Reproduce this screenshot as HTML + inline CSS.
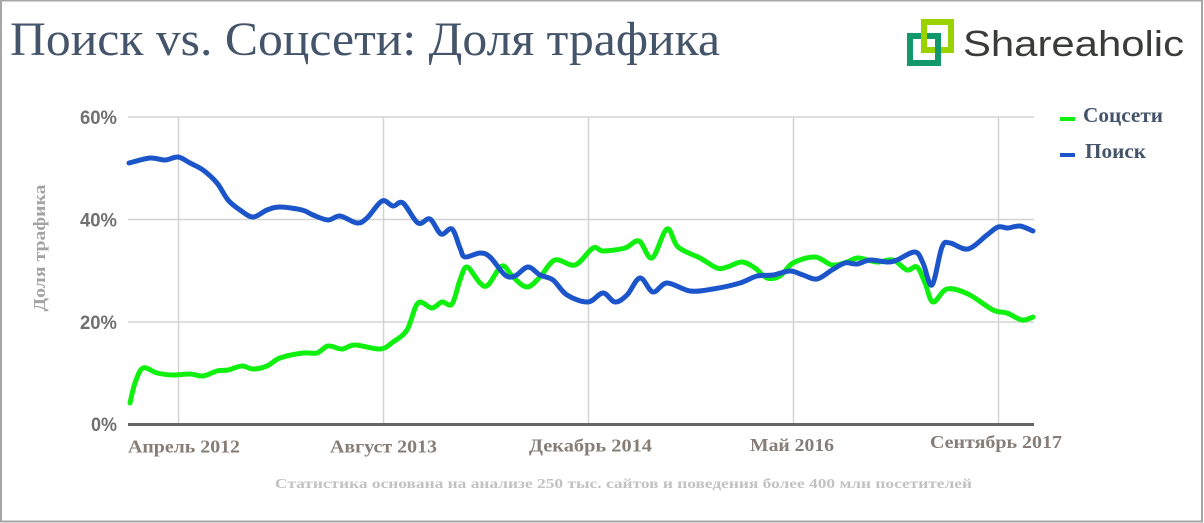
<!DOCTYPE html>
<html>
<head>
<meta charset="utf-8">
<style>
  html, body { margin:0; padding:0; background:#fff; }
  body { width:1204px; height:523px; overflow:hidden; }
  svg { display:block; }
</style>
</head>
<body>
<svg id="chart" width="1204" height="523" viewBox="0 0 1204 523" xmlns="http://www.w3.org/2000/svg">
  <rect x="0" y="0" width="1204" height="523" fill="#ffffff"/>
  <!-- border -->
  <rect x="1" y="0.5" width="1201" height="521" fill="none" stroke="#a6a6a6" stroke-width="2"/>

  <!-- Title -->
  <text x="10" y="55" font-family="'Liberation Serif', 'Noto Serif CJK SC', serif" font-size="48" fill="#44546a" textLength="710" lengthAdjust="spacingAndGlyphs">Поиск vs. Соцсети: Доля трафика</text>

  <!-- Logo -->
  <rect x="910" y="36" width="28" height="27" fill="none" stroke="#12996b" stroke-width="6"/>
  <rect x="924" y="22" width="27" height="28" fill="none" stroke="#9ad200" stroke-width="6"/>
  <rect x="935" y="47" width="6" height="6" fill="#12996b"/>
  <text x="963" y="56" font-family="'Liberation Sans', sans-serif" font-size="36" fill="#3a3c39" textLength="221" lengthAdjust="spacingAndGlyphs">Shareaholic</text>

  <!-- Gridlines -->
  <g stroke="#d3d3d3" stroke-width="1.5" fill="none">
    <line x1="128" y1="117" x2="1034" y2="117"/>
    <line x1="128" y1="219.5" x2="1034" y2="219.5"/>
    <line x1="128" y1="322" x2="1034" y2="322"/>
    <line x1="178.5" y1="117" x2="178.5" y2="424"/>
    <line x1="383.5" y1="117" x2="383.5" y2="424"/>
    <line x1="588.5" y1="117" x2="588.5" y2="424"/>
    <line x1="793.5" y1="117" x2="793.5" y2="424"/>
    <line x1="998.5" y1="117" x2="998.5" y2="424"/>
  </g>
  <line x1="128" y1="424.5" x2="1034" y2="424.5" stroke="#666666" stroke-width="3"/>

  <!-- Y tick labels -->
  <g font-family="'Liberation Sans', sans-serif" font-weight="bold" font-size="19" fill="#707070" text-anchor="end">
    <text x="117" y="124" textLength="37" lengthAdjust="spacingAndGlyphs">60%</text>
    <text x="117" y="226.5" textLength="37" lengthAdjust="spacingAndGlyphs">40%</text>
    <text x="117" y="329" textLength="37" lengthAdjust="spacingAndGlyphs">20%</text>
    <text x="117" y="431" textLength="26" lengthAdjust="spacingAndGlyphs">0%</text>
  </g>

  <!-- Y axis title -->
  <text transform="translate(45,248) rotate(-90)" text-anchor="middle" font-family="'Liberation Serif', serif" font-weight="bold" font-size="17" fill="#a3a3a3" textLength="127" lengthAdjust="spacingAndGlyphs">Доля трафика</text>

  <!-- X labels -->
  <g font-family="'Liberation Serif', serif" font-weight="bold" font-size="18" fill="#857d76">
    <text x="128" y="452.5" textLength="112" lengthAdjust="spacingAndGlyphs">Апрель 2012</text>
    <text x="330" y="452.5" textLength="107" lengthAdjust="spacingAndGlyphs">Август 2013</text>
    <text x="529" y="451.5" textLength="123" lengthAdjust="spacingAndGlyphs">Декабрь 2014</text>
    <text x="750" y="451" textLength="84" lengthAdjust="spacingAndGlyphs">Май 2016</text>
    <text x="930" y="448" textLength="132" lengthAdjust="spacingAndGlyphs">Сентябрь 2017</text>
  </g>

  <!-- Caption -->
  <text x="275" y="488" font-family="'Liberation Serif', serif" font-weight="bold" font-size="14" fill="#c2c2c2" textLength="697" lengthAdjust="spacingAndGlyphs">Статистика основана на анализе 250 тыс. сайтов и поведения более 400 млн посетителей</text>

  <!-- Series -->
  <polyline class="series" fill="none" stroke="#0ff00f" stroke-width="5" stroke-linejoin="round" stroke-linecap="round"
    points="130,403 135,383 143,368 157,373 173,375 190,374 203,376 217,371 228,370 242,366 253,369 267,366 280,358 303,353 317,353 328,346 342,349 355,345 380,349 393,342 407,330 418,303 432,308 442,302 452,304 460,280 467,267 480,283 488,285 502,266 513,277 527,287 540,277 555,260 575,265 593,248 603,251 625,248 639,241 652,258 667,229 678,247 700,258 717,268 727,267 742,262 755,268 767,278 780,276 793,263 815,257 832,265 847,262 858,258 877,262 893,260 907,270 917,267 925,283 933,302 947,289 968,294 993,310 1007,313 1022,320 1033,317"/>
  <polyline class="series" fill="none" stroke="#1b55c9" stroke-width="5" stroke-linejoin="round" stroke-linecap="round"
    points="129,163 150,158 165,160 178,157 190,163 203,170 217,183 228,200 240,210 253,217 267,210 280,207 302,210 313,215 328,220 340,216 357,223 367,218 382,201 393,206 403,203 418,223 430,219 441,234 452,229 460,248 465,257 480,253 490,257 505,275 515,276 528,267 540,275 553,280 567,295 588,302 603,293 615,302 627,295 640,278 653,292 667,283 690,291 713,289 740,283 757,276 773,275 790,271 803,275 817,279 832,270 845,263 857,264 870,260 887,262 897,260 915,252 923,263 932,285 942,247 950,243 968,249 987,235 998,227 1008,228 1020,226 1033,231"/>

  <!-- Legend -->
  <rect x="1060" y="117" width="15" height="4" fill="#0ff00f"/>
  <rect x="1060" y="153" width="15" height="4" fill="#1b55c9"/>
  <g font-family="'Liberation Serif', serif" font-weight="bold" font-size="21" fill="#44546a">
    <text x="1083" y="122" textLength="80" lengthAdjust="spacingAndGlyphs">Соцсети</text>
    <text x="1085" y="158" textLength="61" lengthAdjust="spacingAndGlyphs">Поиск</text>
  </g>
</svg>
<script>
(function(){
  var NS = "http://www.w3.org/2000/svg";
  var lines = document.querySelectorAll("polyline.series");
  for (var k = 0; k < lines.length; k++) {
    var pl = lines[k];
    var raw = pl.getAttribute("points").trim().split(/\s+/);
    var p = raw.map(function(s){ var a = s.split(","); return [parseFloat(a[0]), parseFloat(a[1])]; });
    var d = "M" + p[0][0] + "," + p[0][1];
    var t = 0.5;
    for (var i = 0; i < p.length - 1; i++) {
      var p0 = p[i > 0 ? i - 1 : i], p1 = p[i], p2 = p[i + 1], p3 = p[i + 2 < p.length ? i + 2 : i + 1];
      var c1x = p1[0] + (p2[0] - p0[0]) / 6 * t * 2;
      var c1y = p1[1] + (p2[1] - p0[1]) / 6 * t * 2;
      var c2x = p2[0] - (p3[0] - p1[0]) / 6 * t * 2;
      var c2y = p2[1] - (p3[1] - p1[1]) / 6 * t * 2;
      d += " C" + c1x.toFixed(2) + "," + c1y.toFixed(2) + " " + c2x.toFixed(2) + "," + c2y.toFixed(2) + " " + p2[0] + "," + p2[1];
    }
    var path = document.createElementNS(NS, "path");
    path.setAttribute("d", d);
    path.setAttribute("fill", "none");
    path.setAttribute("stroke", pl.getAttribute("stroke"));
    path.setAttribute("stroke-width", "5");
    path.setAttribute("stroke-linejoin", "round");
    path.setAttribute("stroke-linecap", "round");
    pl.parentNode.insertBefore(path, pl);
    pl.parentNode.removeChild(pl);
  }
})();
</script>
</body>
</html>
